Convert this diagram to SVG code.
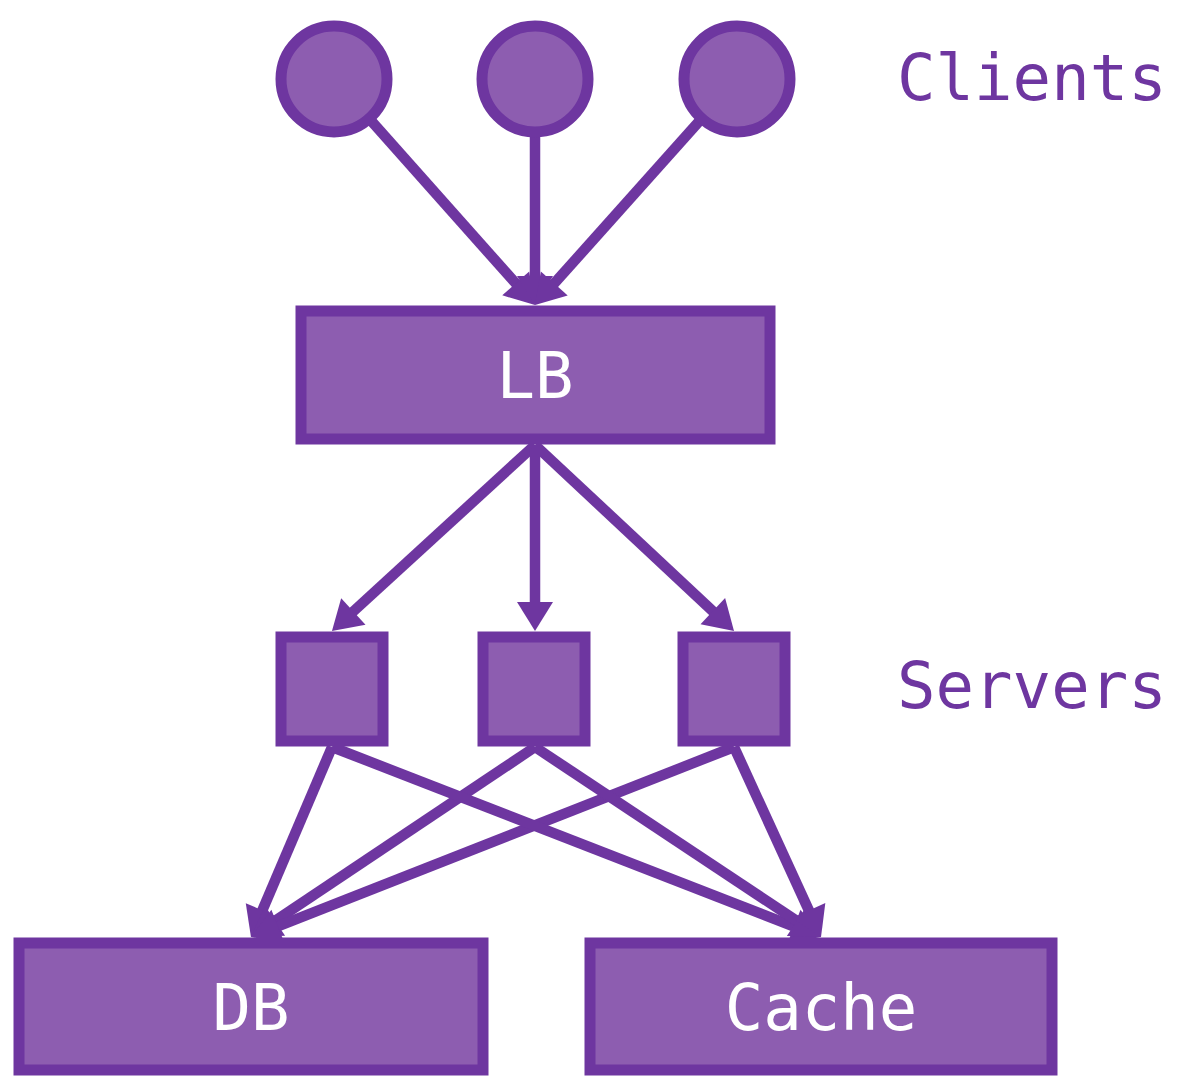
<svg xmlns="http://www.w3.org/2000/svg" width="1180" height="1092" viewBox="0 0 1180 1092">
<style>
.n{fill:#8d5db0;stroke:#6e36a0;stroke-width:11}
.c{stroke:#6e36a0;stroke-width:10.5;fill:none;marker-end:url(#ah)}
.lbl{font-family:"DejaVu Sans Mono",monospace;font-size:64px;fill:#ffffff;text-anchor:middle}
.side{font-family:"DejaVu Sans Mono",monospace;font-size:64px;fill:#6e36a0}
</style>
<defs>
<marker id="ah" markerUnits="userSpaceOnUse" markerWidth="30" markerHeight="36" refX="9" refY="18" orient="auto" overflow="visible">
<path d="M0,0 L29,18 L0,36 z" fill="#6e36a0"/>
</marker>
</defs>
<rect width="1180" height="1092" fill="#ffffff"/>
<g id="connectors">
<line class="c" x1="334" y1="79" x2="521.7" y2="290.1"/>
<line class="c" x1="535" y1="79" x2="535" y2="285"/>
<line class="c" x1="737" y1="79" x2="548.3" y2="290.1"/>
<line class="c" x1="535" y1="445" x2="346.7" y2="617.5"/>
<line class="c" x1="535" y1="445" x2="535" y2="611"/>
<line class="c" x1="535" y1="445" x2="719.4" y2="617.3"/>
<line class="c" x1="332" y1="747" x2="258.8" y2="918.6"/>
<line class="c" x1="535" y1="747" x2="267.6" y2="925.9"/>
<line class="c" x1="734" y1="747" x2="269.6" y2="929.7"/>
<line class="c" x1="332" y1="747" x2="802.4" y2="929.8"/>
<line class="c" x1="535" y1="747" x2="804.3" y2="925.9"/>
<line class="c" x1="734" y1="747" x2="812.7" y2="918.8"/>
</g>
<g id="client1"><circle class="n" cx="334" cy="79" r="53"/></g>
<g id="client2"><circle class="n" cx="535" cy="79" r="53"/></g>
<g id="client3"><circle class="n" cx="737" cy="79" r="53"/></g>
<g id="clients-label"><text class="side" x="897" y="100">Clients</text></g>
<g id="lb"><rect class="n" x="301" y="311" width="469" height="128"/><text class="lbl" x="535" y="398">LB</text></g>
<g id="server1"><rect class="n" x="281" y="637" width="102" height="104"/></g>
<g id="server2"><rect class="n" x="483" y="637" width="102" height="104"/></g>
<g id="server3"><rect class="n" x="683" y="637" width="102" height="104"/></g>
<g id="servers-label"><text class="side" x="897" y="708">Servers</text></g>
<g id="db"><rect class="n" x="19" y="943" width="464" height="127"/><text class="lbl" x="251" y="1030">DB</text></g>
<g id="cache"><rect class="n" x="590" y="943" width="462" height="127"/><text class="lbl" x="821" y="1030">Cache</text></g>
</svg>
